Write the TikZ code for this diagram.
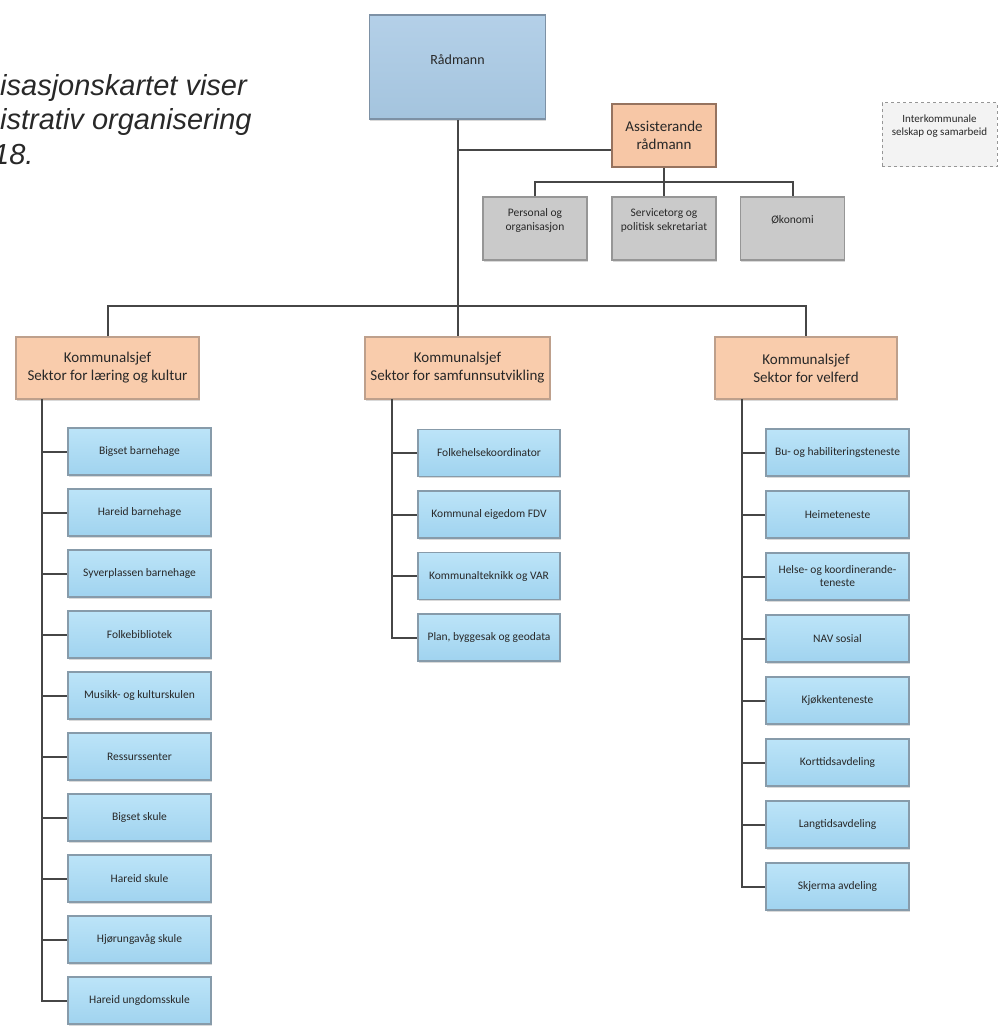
\documentclass[tikz,border=0pt]{standalone}
\usepackage{fontspec}
\setmainfont{Carlito}
\newfontfamily\capfont{Liberation Sans}
\usetikzlibrary{shadows}
\definecolor{linec}{RGB}{70,70,70}
\definecolor{txt}{RGB}{40,40,40}
\definecolor{childtop}{RGB}{188,228,248}
\definecolor{childbot}{RGB}{160,211,239}
\definecolor{childb}{RGB}{135,155,170}
\definecolor{secfill}{RGB}{249,204,172}
\definecolor{secb}{RGB}{190,160,140}
\definecolor{radtop}{RGB}{180,208,232}
\definecolor{radbot}{RGB}{164,196,222}
\definecolor{radb}{RGB}{125,145,165}
\definecolor{grayfill}{RGB}{202,202,202}
\definecolor{grayb}{RGB}{150,150,150}
\definecolor{assfill}{RGB}{247,199,166}
\definecolor{assb}{RGB}{150,115,95}
\definecolor{interfill}{RGB}{243,243,243}
\definecolor{interb}{RGB}{150,150,150}
\begin{document}
\begin{tikzpicture}[x=1pt,y=-1pt,
  box/.style={draw, rectangle, inner sep=2pt, align=center, text=txt},
  shad/.style={drop shadow={shadow xshift=0.8pt, shadow yshift=-1.6pt, opacity=0.3}},
  childbox/.style={box, shad, minimum width=143pt, minimum height=47pt,
    top color=childtop, bottom color=childbot, draw=childb, line width=1.1pt,
    font=\fontsize{11.5}{13}\selectfont},
  secbox/.style={box, shad, minimum height=62pt, fill=secfill, draw=secb, line width=1.1pt,
    font=\fontsize{15}{18}\selectfont},
  graybox/.style={box, shad, minimum width=104pt, minimum height=63pt, fill=grayfill,
    draw=grayb, line width=1.1pt, font=\fontsize{11.5}{13.5}\selectfont},
  conn/.style={draw=linec, line width=2pt},
  capstyle/.style={anchor=base west, inner sep=0pt, font=\capfont\itshape\fontsize{29}{34}\selectfont, text=txt},
]
\useasboundingbox (0,0) rectangle (999,1032);
\clip (0,0) rectangle (999,1032);

% caption (cropped at left edge, as in the reference)
\node[capstyle] (cap1) at (0,96) {isasjonskartet viser};
\node[capstyle] (cap2) at (0,130) {istrativ organisering};
\node[capstyle] (cap3) at (-7,165) {18.};

% top level
\node[box, shad, minimum width=176pt, minimum height=104pt, top color=radtop, bottom color=radbot,
  draw=radb, line width=1.6pt, font=\fontsize{14}{16}\selectfont, text depth=14pt] (rad) at (457.5,67) {Rådmann};
\node[box, minimum width=104pt, minimum height=63pt, fill=assfill, draw=assb, line width=2.4pt,
  font=\fontsize{15}{18}\selectfont] (ass) at (664,135.5) {Assisterande\\rådmann};
\node[box, minimum width=115pt, minimum height=64pt, fill=interfill, draw=interb, dashed,
  line width=1pt, font=\fontsize{11}{13}\selectfont] (inter) at (939.5,135)
  {Interkommunale\\selskap og samarbeid\\[6pt]};

% staff boxes
\node[graybox] (g1) at (535,228.5) {Personal og\\organisasjon\\[4pt]};
\node[graybox] (g2) at (664,228.5) {Servicetorg og\\politisk sekretariat\\[4pt]};
\node[graybox] (g3) at (792.5,228.5) {Økonomi\\[5pt]};

% sectors
\node[secbox, minimum width=183pt] (s1) at (107.5,368) {Kommunalsjef\\Sektor for læring og kultur};
\node[secbox, minimum width=185pt] (s2) at (457.5,368) {Kommunalsjef\\Sektor for samfunnsutvikling};
\node[secbox, minimum width=182pt] (s3) at (806,368) {Kommunalsjef\\Sektor for velferd};

% left children
\node[childbox] (a1) at (139.5,451.5) {Bigset barnehage};
\node[childbox] (a2) at (139.5,512.5) {Hareid barnehage};
\node[childbox] (a3) at (139.5,573.5) {Syverplassen barnehage};
\node[childbox] (a4) at (139.5,634.5) {Folkebibliotek};
\node[childbox] (a5) at (139.5,695.5) {Musikk- og kulturskulen};
\node[childbox] (a6) at (139.5,756.5) {Ressurssenter};
\node[childbox] (a7) at (139.5,817.5) {Bigset skule};
\node[childbox] (a8) at (139.5,878.5) {Hareid skule};
\node[childbox] (a9) at (139.5,939.5) {Hjørungavåg skule};
\node[childbox] (a10) at (139.5,1000.5) {Hareid ungdomsskule};

% middle children
\node[childbox, minimum width=142pt] (b1) at (489,453) {Folkehelsekoordinator};
\node[childbox, minimum width=142pt] (b2) at (489,514.5) {Kommunal eigedom FDV};
\node[childbox, minimum width=142pt] (b3) at (489,576) {Kommunalteknikk og VAR};
\node[childbox, minimum width=142pt] (b4) at (489,637.5) {Plan, byggesak og geodata};

% right children
\node[childbox] (c1) at (837.5,452.5) {Bu- og habiliteringsteneste};
\node[childbox] (c2) at (837.5,514.5) {Heimeteneste};
\node[childbox] (c3) at (837.5,576.5) {Helse- og koordinerande-\\teneste};
\node[childbox] (c4) at (837.5,638.5) {NAV sosial};
\node[childbox] (c5) at (837.5,700.5) {Kjøkkenteneste};
\node[childbox] (c6) at (837.5,762.5) {Korttidsavdeling};
\node[childbox] (c7) at (837.5,824.5) {Langtidsavdeling};
\node[childbox] (c8) at (837.5,886.5) {Skjerma avdeling};

% connectors top
\coordinate (bus) at (457.5,306);
\coordinate (j) at (457.5,150);
\coordinate (gb) at (664,182);
\draw[conn] (rad.south) -- (s2.north);
\draw[conn] (s1.north) |- (bus) -| (s3.north);
\draw[conn] (j) -- (j -| ass.west);
\draw[conn] (ass.south) -- (gb);
\draw[conn] (g1.north) |- (gb) -| (g3.north);
\draw[conn] (gb) -- (g2.north);

% branch lines
\coordinate (la) at (42,399);
\coordinate (lb) at (392,399);
\coordinate (lc) at (742,399);
\draw[conn] (la) |- (a10.west);
\foreach \n in {a1,a2,a3,a4,a5,a6,a7,a8,a9} \draw[conn] (la |- \n.west) -- (\n.west);
\draw[conn] (lb) |- (b4.west);
\foreach \n in {b1,b2,b3} \draw[conn] (lb |- \n.west) -- (\n.west);
\draw[conn] (lc) |- (c8.west);
\foreach \n in {c1,c2,c3,c4,c5,c6,c7} \draw[conn] (lc |- \n.west) -- (\n.west);
\end{tikzpicture}
\end{document}
